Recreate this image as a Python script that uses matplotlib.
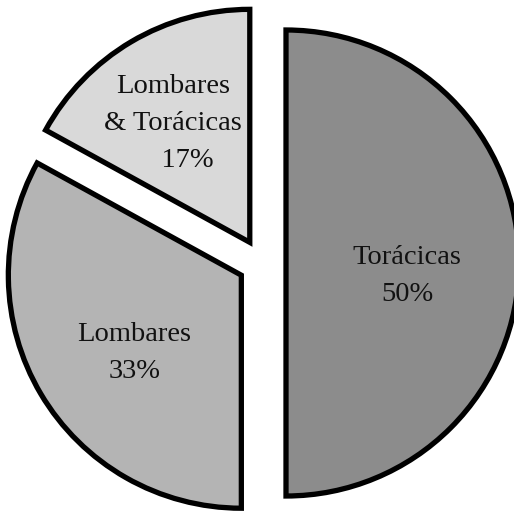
import matplotlib
matplotlib.use('Agg')
import matplotlib.pyplot as plt

# dados
categorias = ["Torácicas", "Lombares", "Lombares\n& Torácicas"]
valores = [50, 33, 17]
rotulos_pct = ["50%", "33%", "    17%"]
cores = ["#8c8c8c", "#b4b4b4", "#d9d9d9"]

# posição do texto relativa ao centro de cada fatia (layout)
offsets_texto = [(0.52, -0.056), (-0.46, -0.335), (-0.33, 0.51)]

fig = plt.figure(figsize=(5.14, 5.13), dpi=100)
ax = fig.add_axes([0, 0, 1, 1])

wedges, textos = ax.pie(
    valores,
    colors=cores,
    startangle=90,
    counterclock=False,
    explode=[0.103] * len(valores),
    radius=1.0,
    wedgeprops=dict(edgecolor="black", linewidth=3.8, joinstyle="miter"),
)

# rótulos dentro das fatias
for w, cat, pct, (dx, dy) in zip(wedges, categorias, rotulos_pct, offsets_texto):
    cx, cy = w.center
    ax.text(cx + dx, cy + dy, cat + "\n" + pct,
            ha="center", va="center", multialignment="center",
            fontsize=20.5, family="Liberation Serif", color="#111111",
            linespacing=1.65)

ax.set_xlim(-262 / 233, (514 - 262) / 233)
ax.set_ylim(-250 / 233, 263 / 233)
ax.set_aspect("equal")
ax.axis("off")

fig.savefig("out.png", dpi=100, facecolor="white")
